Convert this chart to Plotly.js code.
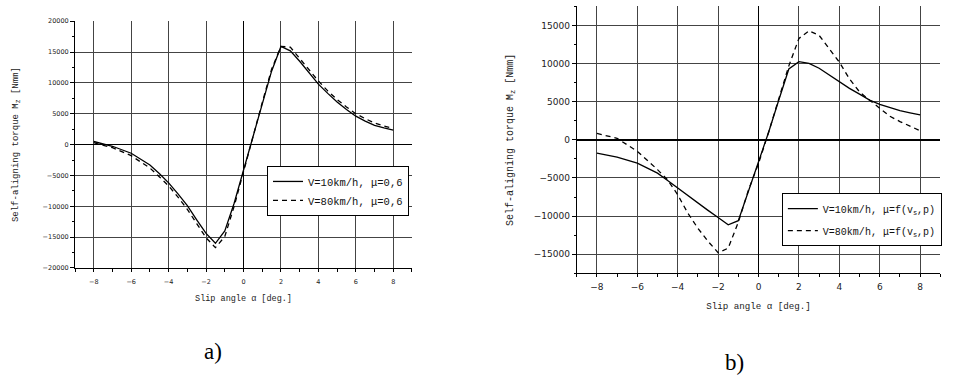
<!DOCTYPE html>
<html>
<head>
<meta charset="utf-8">
<script src="https://cdn.plot.ly/plotly-3.0.1.min.js"></script>
<style>html,body{margin:0;padding:0;background:#fff;}#chart{width:957px;height:378px;}</style>
</head>
<body>
<div id="chart"></div>
<script>
// Slip angle values (deg)
const alpha = [-8,-7,-6,-5,-4.5,-4,-3.5,-3,-2.5,-2,-1.5,-1,-0.5,0,0.5,1,1.5,2,2.5,3,3.5,4,4.5,5,5.5,6,6.5,7,7.5,8];

// Chart a) mu = 0,6
const mzA_V10 = [500,-270,-1400,-3300,-4700,-6200,-8000,-9900,-12200,-14400,-16000,-14000,-9500,-4100,1400,6800,11900,15900,15200,13500,11600,9800,8300,6900,5700,4600,3800,3100,2700,2350];
const mzA_V80 = [300,-500,-1800,-3800,-5200,-6700,-8500,-10500,-12800,-15100,-16700,-14900,-10000,-4300,1200,6800,12200,15900,15800,14000,12100,10300,8700,7300,6100,5000,4200,3500,3000,2650];

// Chart b) mu = f(vs, p)
const mzB_V10 = [-1750,-2270,-3060,-4370,-5340,-6340,-7300,-8310,-9250,-10190,-11150,-10600,-6700,-3100,1000,5200,9300,10260,10040,9390,8510,7630,6750,6000,5220,4650,4210,3820,3550,3290];
const mzB_V80 = [850,200,-1500,-3900,-5250,-7200,-9600,-11600,-13300,-14800,-14200,-10800,-6600,-3100,1000,5200,9700,13300,14300,13700,12000,10200,8000,6300,5200,4100,3100,2400,1800,1200];

// Labels
const namesA = ['V=10km/h, μ=0,6', 'V=80km/h, μ=0,6'];
const namesB = ['V=10km/h, μ=f(v<sub>s</sub>,p)', 'V=80km/h, μ=f(v<sub>s</sub>,p)'];
const xTitle = 'Slip angle α [deg.]';
const yTitle = 'Self-aligning torque M<sub>z</sub> [Nmm]';
const panelLabels = ['a)', 'b)'];

const solid = {color:'black', width:1.3};
const dashed = {color:'black', width:1.3, dash:'5px,4px'};

const traces = [
  {x:alpha, y:mzA_V10, xaxis:'x', yaxis:'y', mode:'lines', line:solid, name:namesA[0], legend:'legend'},
  {x:alpha, y:mzA_V80, xaxis:'x', yaxis:'y', mode:'lines', line:dashed, name:namesA[1], legend:'legend'},
  {x:alpha, y:mzB_V10, xaxis:'x2', yaxis:'y2', mode:'lines', line:solid, name:namesB[0], legend:'legend2', legendgroup:'b1'},
  {x:alpha, y:mzB_V80, xaxis:'x2', yaxis:'y2', mode:'lines', line:dashed, name:namesB[1], legend:'legend2', legendgroup:'b2'}
];

const gridCol = '#444';

function xAxis(domain, anchor, fs, tfs, standoff, lblOff) {
  return {
    domain: domain, anchor: anchor, range: [-9, 9], tick0: 0, dtick: 2,
    showline: true, linecolor: 'black', linewidth: 1,
    ticks: 'outside', ticklen: 3, tickcolor: 'black', tickwidth: 1,
    ticklabelstandoff: lblOff,
    minor: {dtick: 1, ticks: 'outside', ticklen: 3, tickcolor: 'black', showgrid: false},
    showgrid: true, gridcolor: gridCol, gridwidth: 1,
    zeroline: true, zerolinecolor: 'black', zerolinewidth: 1.3,
    tickfont: {family: 'DejaVu Sans', size: fs, color: '#222'},
    title: {text: xTitle, font: {family: 'Liberation Mono', size: tfs, color: '#222'}, standoff: standoff}
  };
}
function yAxis(domain, anchor, range, fs, tfs, standoff) {
  return {
    domain: domain, anchor: anchor, range: range, tick0: 0, dtick: 5000,
    tickformat: 'd', exponentformat: 'none',
    showline: true, linecolor: 'black', linewidth: 1,
    ticks: 'outside', ticklen: 4, tickcolor: 'black', tickwidth: 1,
    minor: {dtick: 2500, ticks: 'outside', ticklen: 2, tickcolor: 'black', showgrid: false},
    showgrid: true, gridcolor: gridCol, gridwidth: 1,
    zeroline: true, zerolinecolor: 'black', zerolinewidth: 1.5,
    tickfont: {family: 'DejaVu Sans', size: fs, color: '#222'},
    title: {text: yTitle, font: {family: 'Liberation Mono', size: tfs, color: '#222'}, standoff: standoff}
  };
}

const legendStyle = (x, y, gap, fs) => ({
  x: x, y: y, xanchor: 'left', yanchor: 'top', xref: 'paper', yref: 'paper',
  bgcolor: 'white', bordercolor: 'black', borderwidth: 1,
  font: {family: 'Liberation Mono', size: fs, color: '#111'},
  tracegroupgap: gap, traceorder: 'normal'
});

const layout = {
  width: 957, height: 378,
  margin: {l: 0, r: 0, t: 0, b: 0},
  paper_bgcolor: 'white', plot_bgcolor: 'white',
  showlegend: true,
  xaxis: xAxis([0.0784, 0.4305], 'y', 6.5, 8.5, 10, 4),
  yaxis: yAxis([0.291, 0.944], 'x', [-20000, 20000], 6.5, 9, 22),
  xaxis2: xAxis([0.6026, 0.9826], 'y2', 9, 9.2, 11, 2),
  yaxis2: yAxis([0.277, 0.983], 'x2', [-17500, 17500], 9, 10, 18),
  legend: legendStyle(0.279, 0.561, 0, 10.5),
  legend2: Object.assign(legendStyle(0.817, 0.489, 3, 10), {traceorder: 'grouped'}),
  annotations: [
    {text: panelLabels[0], xref: 'paper', yref: 'paper', x: 0.2226, y: 0.0714, xanchor: 'center', yanchor: 'middle', showarrow: false, font: {family: 'Liberation Serif', size: 23, color: 'black'}},
    {text: panelLabels[1], xref: 'paper', yref: 'paper', x: 0.768, y: 0.042, xanchor: 'center', yanchor: 'middle', showarrow: false, font: {family: 'Liberation Serif', size: 23, color: 'black'}}
  ]
};

Plotly.newPlot('chart', traces, layout, {displayModeBar: false, staticPlot: true});
</script>
</body>
</html>
